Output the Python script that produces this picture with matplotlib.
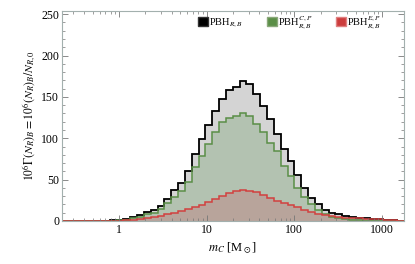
import numpy as np
import matplotlib.pyplot as plt
from matplotlib.patches import Patch
from matplotlib.ticker import FixedLocator, LogLocator, NullFormatter

plt.rcParams['font.family'] = ['Liberation Serif', 'DejaVu Serif']
plt.rcParams['mathtext.fontset'] = 'stix'

# 50 log-spaced mass bins (M_sun)
edges = np.logspace(-0.652, 3.248, 51)

total = [0.1, 0.1, 0.1, 0.15, 0.2, 0.3, 0.4, 0.6, 1.2, 2.4,
         4.5, 7.5, 11, 13, 18, 27, 37, 46, 60, 81,
         99, 116, 133, 148, 158, 162, 169, 165, 154, 139,
         123, 105, 87, 72, 56, 39.5, 28, 20, 13, 10,
         8, 6, 4.8, 4.0, 3.2, 2.6, 2.0, 1.5, 1.0, 0.5]
cp = [0.05, 0.05, 0.05, 0.08, 0.1, 0.15, 0.25, 0.4, 0.8, 1.6,
      3, 5, 8, 10, 14, 22, 28.6, 36, 47.5, 65.6,
      78.5, 93, 107, 120, 125, 127, 131, 127, 117, 107,
      94, 84, 66, 54, 39.5, 29, 20, 13, 8, 5,
      3.3, 2, 1.2, 0.7, 0.4, 0.2, 0.1, 0.05, 0.05, 0.05]
ep = [0.02, 0.02, 0.03, 0.05, 0.07, 0.1, 0.15, 0.25, 0.4, 0.8,
      1.4, 2, 3.2, 4.4, 6, 8, 10, 11.7, 14.5, 16.5,
      19.7, 23, 27, 29.8, 33.8, 35.8, 37.8, 36.6, 35, 31.8,
      27.8, 24.6, 21.7, 19.7, 16.5, 13.7, 10.5, 8.5, 6.9, 5.7,
      4.4, 4.0, 3.6, 3.2, 2.8, 2.3, 1.8, 1.4, 0.9, 0.4]

labels = [r'PBH$_{R,B}$', r'PBH$^{C,P}_{R,B}$', r'PBH$^{E,P}_{R,B}$']

fig = plt.figure(figsize=(4.15, 2.64), dpi=100)
ax = fig.add_axes([0.149, 0.163, 0.824, 0.796])

ax.stairs(total, edges, fill=True, color='#d4d4d4')
ax.stairs(cp, edges, fill=True, color='#b3c2b1')
ax.stairs(ep, edges, fill=True, color='#b8a49b')
ax.stairs(total, edges, color='black', lw=1.3)
ax.stairs(cp, edges, color='#5a8e46', lw=1.1)
ax.stairs(ep, edges, color='#d2403f', lw=1.1)

ax.set_xscale('log')
ax.set_xlim(edges[0], edges[-1])
ax.set_ylim(0, 254)

ax.set_xticks([1, 10, 100, 1000])
ax.set_xticklabels(['1', '10', '100', '1000'])
ax.xaxis.set_minor_locator(LogLocator(base=10, subs=np.arange(2, 10)))
ax.xaxis.set_minor_formatter(NullFormatter())
ax.set_yticks([0, 50, 100, 150, 200, 250])
ax.yaxis.set_minor_locator(FixedLocator(np.arange(0, 251, 10)))

frame = '#a3b0ae'
for s in ax.spines.values():
    s.set_color(frame)
    s.set_linewidth(0.8)
ax.tick_params(which='both', direction='in', top=True, right=True,
               color='#777777', labelsize=8.5, pad=2)
ax.tick_params(which='major', length=4, width=0.6)
ax.tick_params(which='minor', length=2, width=0.5)

ax.set_xlabel(r'$m_C$ [M$_\odot$]', fontsize=9, labelpad=3)
ax.set_ylabel(r'$10^6\Gamma(N_R)_B = 10^6(N_R)_B/N_{R,0}$', fontsize=8.5, labelpad=2)

handles = [Patch(facecolor='black', edgecolor='#333333'),
           Patch(facecolor='#5a8e46', edgecolor='#8aa87a'),
           Patch(facecolor='#cc3c3c', edgecolor='#e08080')]
ax.legend(handles, labels, loc='upper right', bbox_to_anchor=(0.955, 1.02), ncol=3,
          frameon=False, fontsize=7.5, handlelength=0.95, handleheight=0.95,
          handletextpad=0.1, columnspacing=2.3, borderaxespad=0.3)

plt.savefig('out.png', dpi=100)
